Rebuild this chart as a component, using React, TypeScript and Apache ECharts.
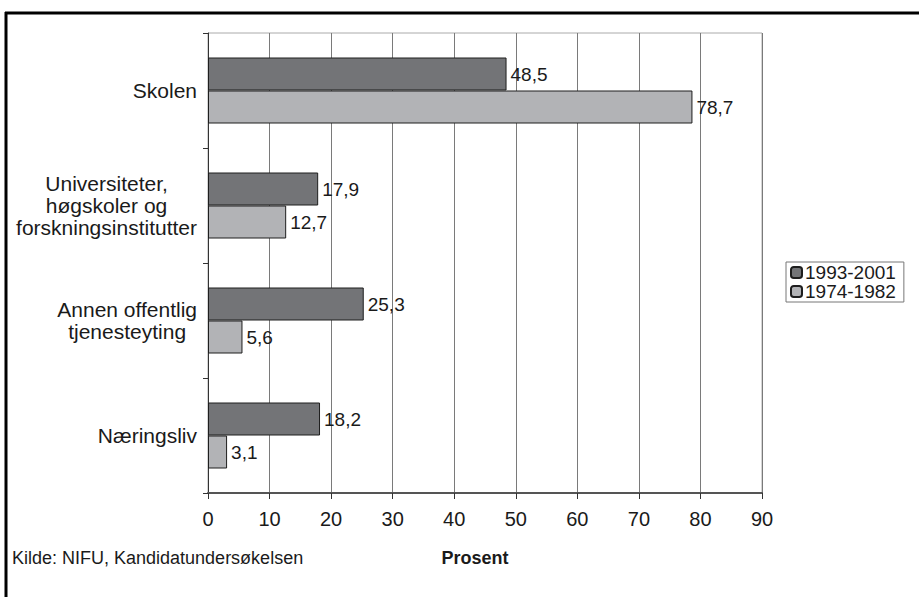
import React, { useEffect, useRef } from "react";
import * as echarts from "echarts";

const categories = [
  "Skolen",
  "Universiteter,\nhøgskoler og\nforskningsinstitutter",
  "Annen offentlig\ntjenesteyting",
  "Næringsliv",
];
const seriesNames = ["1993-2001", "1974-1982"];
const values1993 = [48.5, 17.9, 25.3, 18.2];
const values1974 = [78.7, 12.7, 5.6, 3.1];
const xTicks = { min: 0, max: 90, interval: 10 };
const axisTitle = "Prosent";
const sourceNote = "Kilde: NIFU, Kandidatundersøkelsen";

const FONT = "Liberation Sans, Arial, sans-serif";
const TXT = "#1a1a1a";

export default function App() {
  const ref = useRef<HTMLDivElement>(null);
  useEffect(() => {
    if (!ref.current) return;
    const chart = echarts.init(ref.current, null, { renderer: "svg" });
    const label = {
      show: true,
      position: "right",
      distance: 4,
      color: TXT,
      fontFamily: FONT,
      fontSize: 19,
      formatter: (p: any) => Number(p.value).toFixed(1).replace(".", ","),
    };
    chart.setOption({
      animation: false,
      backgroundColor: "#ffffff",
      textStyle: { fontFamily: FONT },
      grid: {
        left: 208,
        right: 157,
        top: 33,
        bottom: 104,
        show: true,
        borderColor: "#aaaaaa",
        borderWidth: 1,
      },
      legend: {
        data: seriesNames,
        orient: "vertical",
        left: 786,
        top: 262,
        padding: [1, 8, 1, 4],
        itemGap: 0,
        itemWidth: 11,
        itemHeight: 11,
        borderColor: "#777777",
        borderWidth: 1,
        borderRadius: 0,
        textStyle: { fontSize: 19, lineHeight: 18, color: TXT, fontFamily: FONT, padding: [0, 0, 0, -2] },
      },
      xAxis: {
        type: "value",
        min: xTicks.min,
        max: xTicks.max,
        interval: xTicks.interval,
        name: axisTitle,
        nameLocation: "middle",
        nameGap: 56,
        nameTextStyle: {
          fontSize: 18,
          fontWeight: "bold",
          color: TXT,
          fontFamily: FONT,
          padding: [0, 20, 0, 0],
        },
        axisLine: { show: true, lineStyle: { color: "#555555", width: 2 } },
        axisTick: { show: true, length: 6, lineStyle: { color: "#333333" } },
        axisLabel: { fontSize: 20, color: TXT, margin: 16, fontFamily: FONT },
        splitLine: { show: true, lineStyle: { color: "#7a7a7a", width: 1 } },
      },
      yAxis: {
        type: "category",
        data: categories,
        inverse: true,
        axisLine: { show: true, lineStyle: { color: "#333333", width: 1 } },
        axisTick: { show: true, length: 5, lineStyle: { color: "#333333" } },
        axisLabel: {
          margin: 11,
          align: "right",
          color: TXT,
          fontSize: 21,
          lineHeight: 22,
          fontFamily: FONT,
          formatter: (v: string) =>
            v.split("\n").map((l) => "{c|" + l + "}").join("\n"),
          rich: {
            c: { align: "center", fontSize: 21, lineHeight: 22, color: TXT, fontFamily: FONT },
          },
        },
      },
      series: [
        {
          name: seriesNames[0],
          type: "bar",
          data: values1993,
          barWidth: 33,
          barGap: "0%",
          itemStyle: { color: "#737477", borderColor: "#1e1e1e", borderWidth: 1 },
          label,
        },
        {
          name: seriesNames[1],
          type: "bar",
          data: values1974,
          barWidth: 33,
          barGap: "0%",
          itemStyle: { color: "#b2b3b6", borderColor: "#1e1e1e", borderWidth: 1 },
          label,
        },
      ],
      graphic: [
        {
          type: "line",
          shape: { x1: 5, y1: 13, x2: 919, y2: 13 },
          style: { stroke: "#000000", lineWidth: 3 },
        },
        {
          type: "line",
          shape: { x1: 6, y1: 12, x2: 6, y2: 597 },
          style: { stroke: "#000000", lineWidth: 3 },
        },
        {
          type: "text",
          left: 12,
          top: 549,
          style: { text: sourceNote, fontSize: 18, fill: TXT, fontFamily: FONT },
        },
      ],
    });
    return () => chart.dispose();
  }, []);
  return (
    <div
      ref={ref}
      style={{ position: "absolute", left: 0, top: 0, width: 919, height: 597 }}
    />
  );
}
